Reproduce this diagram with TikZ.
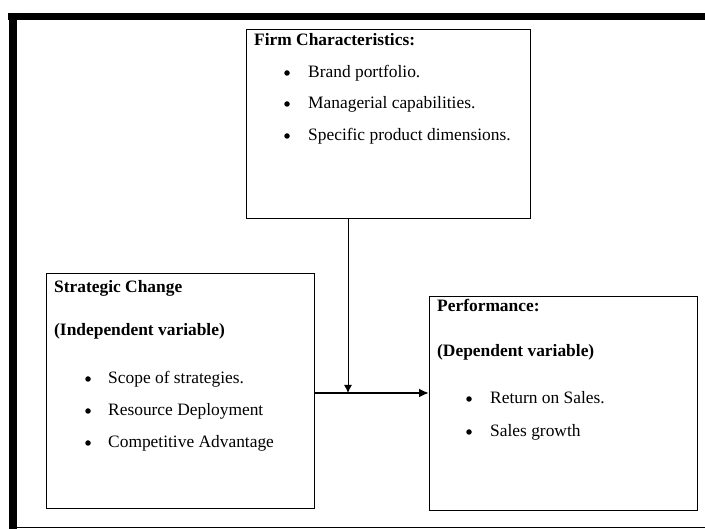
\documentclass[tikz,border=0pt]{standalone}
\usepackage{fontspec}
\setmainfont{Liberation Serif}
\usetikzlibrary{arrows.meta}

\tikzset{
  varbox/.style={draw=black,line width=1.3pt,anchor=north west,inner sep=0pt},
  boxtitle/.style={anchor=base west,font=\fontsize{17.4}{20}\selectfont\bfseries,inner sep=0pt},
  item/.style={anchor=base west,font=\fontsize{17.4}{20}\selectfont,inner sep=0pt},
  dot/.style={circle,fill=black,inner sep=0pt,minimum size=5.5pt}
}

\begin{document}
\begin{tikzpicture}[x=1pt,y=-1pt]
   \useasboundingbox (0,0) rectangle (705,529);
   % frame
   \draw[line width=7pt] (8,16.5) -- (705,16.5);
   \draw[line width=8pt] (12.5,13) -- (12.5,529);
   \draw[line width=1.6pt] (12,527.5) -- (705,527.5);
   % boxes
   \node[varbox,minimum width=284pt,minimum height=189pt] (firm) at (246,29) {};
   \node[varbox,minimum width=268pt,minimum height=235pt] (strat) at (46,273) {};
   \node[varbox,minimum width=268pt,minimum height=214pt] (perf) at (429,296) {};
   % firm characteristics
   \node[boxtitle] (firmtitle) at (254,46) {Firm Characteristics:};
   \foreach \y/\txt [count=\i] in {78/Brand portfolio., 109/Managerial capabilities., 141/Specific product dimensions.}
     {\node[dot] (firmdot\i) at (287,\y-5) {}; \node[item] (firmitem\i) at (308,\y) {\txt};}
   % strategic change
   \node[boxtitle] (strattitle) at (54,293) {Strategic Change};
   \node[boxtitle] (stratsub) at (54,336) {(Independent variable)};
   \foreach \y/\txt [count=\i] in {384/Scope of strategies., 416/Resource Deployment, 448/Competitive Advantage}
     {\node[dot] (stratdot\i) at (88,\y-5) {}; \node[item] (stratitem\i) at (108,\y) {\txt};}
   % performance
   \node[boxtitle] (perftitle) at (437,312) {Performance:};
   \node[boxtitle] (perfsub) at (437,357) {(Dependent variable)};
   \foreach \y/\txt [count=\i] in {404/Return on Sales., 437/Sales growth}
     {\node[dot] (perfdot\i) at (469,\y-5) {}; \node[item] (perfitem\i) at (490,\y) {\txt};}
   % connectors
   \coordinate (meet) at (348,393);
   \draw[line width=2pt,-{Latex[length=10pt,width=9pt]}] (strat.east |- meet) -- (perf.west |- meet);
   \draw[line width=1pt,-{Latex[length=8pt,width=8pt]}] (firm.south -| meet) -- (meet);
\end{tikzpicture}
\end{document}
